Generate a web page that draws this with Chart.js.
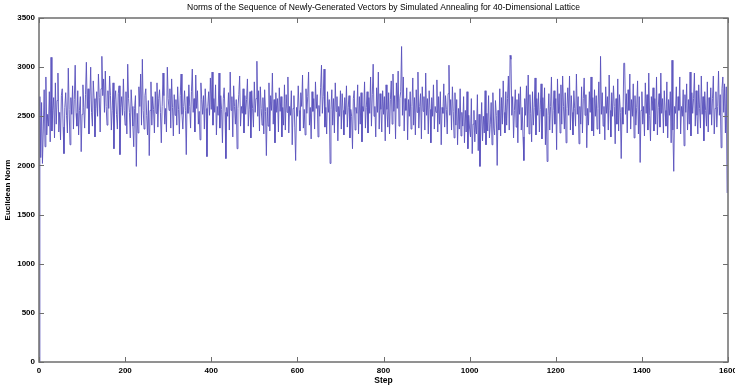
<!DOCTYPE html>
<html><head><meta charset="utf-8">
<script src="https://cdn.jsdelivr.net/npm/chart.js@4/dist/chart.umd.min.js"></script>
<style>html,body{margin:0;padding:0;background:#fff;overflow:hidden}canvas{display:block}</style>
</head><body>
<canvas id="c" width="735" height="390" style="width:735px;height:390px"></canvas>
<script>
const TITLE = "Norms of the Sequence of Newly-Generated Vectors by Simulated Annealing for 40-Dimensional Lattice";
const X_LABEL = "Step";
const Y_LABEL = "Euclidean Norm";
const X_TICKS = [0, 200, 400, 600, 800, 1000, 1200, 1400, 1600];
const Y_TICKS = [0, 500, 1000, 1500, 2000, 2500, 3000, 3500];
const STEP_INTERVAL = 2; // one sampled value every 2 steps
const norms = [
0,2700,2080,2640,2020,2360,2770,2190,2900,2310,2520,2400,2750,2240,3100,2350,2560,2690,2280,2840,
2420,2660,2940,2340,2540,2260,2710,2780,2390,2120,2590,2740,2510,2330,2990,2570,2210,2690,2520,2810,
2370,2670,3020,2530,2400,2760,2310,2560,2700,2140,2520,2820,2590,2380,2720,3050,2580,2780,2320,2670,
3000,2540,2400,2860,2680,2290,2580,2750,2500,2930,2690,2340,2780,3110,2710,2880,2540,2960,2600,2410,
2760,2580,2910,2710,2360,2560,2840,2170,2670,2760,2520,2370,2730,2810,2110,2590,2700,2510,2880,2560,
2410,2750,2320,3030,2680,2540,2280,2770,2600,2400,2190,2580,2710,1990,2530,2330,2800,2600,2930,2410,
3080,2560,2370,2710,2780,2510,2310,2660,2100,2560,2850,2410,2700,2570,2330,2750,2530,2840,2390,2680,
2770,2540,2230,2600,2940,2710,2420,2580,2340,3000,2680,2560,2780,2380,2880,2590,2300,2720,2510,2670,
2410,2800,2570,2320,2710,2930,2520,2370,2600,2760,2560,2110,2700,2530,2820,2600,2380,2750,2980,2540,
2680,2340,2920,2580,2760,2420,2550,2260,2840,2670,2520,2710,2370,2780,2580,2090,2600,2750,2510,2890,
2570,2950,2410,2680,2540,2820,2310,2600,2510,2940,2380,2710,2570,2230,2680,2790,2540,2070,2590,2500,
2740,2360,2950,2560,2700,2290,2810,2600,2420,2670,2170,2580,2720,2910,2400,2600,2530,2780,2330,2710,
2520,2670,2880,2400,2570,2750,2280,2760,2580,2390,2850,2540,2680,3060,2500,2760,2350,2800,2580,2410,
2690,2320,2770,2550,2100,2590,2400,2840,2350,2710,2560,2940,2420,2670,2230,2740,2540,2680,2340,2790,
2550,2700,2290,2590,2410,2820,2360,2720,2540,2900,2330,2600,2510,2760,2210,2580,2710,2390,2050,2590,
2500,2810,2560,2350,2740,2600,2920,2380,2570,2310,2780,2530,2700,2950,2410,2590,2270,2750,2550,2680,
2370,2850,2580,2720,2290,2610,2500,2790,3020,2530,2700,2980,2390,2590,2320,2750,2540,2670,2020,2570,
2770,2410,2680,2330,2840,2550,2700,2250,2600,2500,2760,2370,2730,2560,2310,2690,2520,2810,2390,2590,
2710,2280,2570,2500,2170,2680,2760,2360,2590,2530,2820,2320,2700,2420,2740,2240,2600,2550,2850,2380,
2590,2750,2330,2690,2530,2900,2400,2720,3030,2500,2600,2290,2790,2540,2950,2370,2730,2570,2340,2760,
2520,2700,2250,2820,2570,2390,2740,2320,2670,2860,2420,2930,2550,2710,2270,2840,2580,2960,2400,2680,
2750,3210,2510,2900,2350,2680,2560,2790,2260,2670,2500,2750,2370,2600,2890,2410,2690,2310,2770,2540,
2950,2380,2600,2730,2270,2800,2550,2700,2360,2940,2510,2680,2320,2760,2570,2230,2690,2500,2820,2370,
2600,2540,2870,2340,2700,2420,2750,2210,2590,2530,2830,2390,2710,2570,2320,2730,3020,2510,2670,2360,
2800,2550,2280,2740,2410,2670,2210,2580,2370,2780,2300,2540,2400,2700,2230,2560,2340,2750,2170,2510,
2370,2290,2680,2120,2420,2560,2240,2460,2320,2720,2150,2520,1990,2360,2640,2250,2500,2330,2760,2210,
2530,2350,2710,2280,2420,2640,2210,2740,2380,2310,2660,2510,2000,2560,2360,2780,2300,2690,2420,2860,
2540,2330,2750,2410,2680,2910,2360,3120,3080,2510,2700,2280,2560,2770,2390,2670,2230,2730,2520,2800,
2360,2590,2290,2050,2680,2510,2810,2390,2920,2320,2720,2530,2240,2750,2410,2590,2890,2310,2680,2510,
2740,2340,2570,2830,2270,2690,2500,2790,2210,2580,2040,2510,2730,2360,2600,2900,2330,2560,2760,2420,
2680,2160,2880,2530,2730,2330,2820,2420,2910,2600,2370,2740,2230,2580,2790,2510,2910,2360,2710,2540,
2310,2760,2580,2400,2930,2520,2700,2220,2600,2420,2800,2330,2680,2890,2510,2720,2180,2580,2410,2750,
2540,2900,2350,2690,2300,2770,2500,2710,2370,2580,2850,2320,3110,2520,2740,2400,2600,2260,2800,2530,
2700,2360,2920,2560,2290,2740,2500,2810,2600,2220,2680,2420,2880,2350,2720,2540,2070,2590,2420,3040,
3040,2520,2730,2330,2770,2560,2930,2370,2670,2500,2830,2280,2710,2410,2590,2860,2320,2700,2030,2560,
2750,2420,2600,2300,2840,2530,2720,2360,2940,2510,2250,2700,2560,2790,2350,2680,2420,2900,2310,2590,
2730,2390,2940,2530,2680,2330,2760,2560,2400,2850,2280,2670,2510,2750,2230,3070,2360,1940,2600,2530,
2800,2370,2700,2560,2900,2320,2600,2500,2770,2200,2720,2540,2830,2360,2670,2420,2950,2300,2740,2530,
2680,2940,2400,2760,2510,2320,2820,2580,2380,2910,2520,2700,2250,2750,2560,2400,2850,2340,2690,2520,
2790,2410,2680,2910,2320,2580,2750,2390,2600,2960,2510,2720,2180,2780,2900,2540,2830,2330,2800,1720
];

const points = norms.map((v, i) => ({ x: i * STEP_INTERVAL, y: v }));
const FONT = '"Liberation Sans", Arial, sans-serif';
const AXIS_COLOR = '#6e6e6e';

const frame = {
  id: 'frame',
  afterDraw(chart) {
    const ctx = chart.ctx, a = chart.chartArea;
    const xs = chart.scales.x, ys = chart.scales.y;
    ctx.save();
    ctx.strokeStyle = AXIS_COLOR;
    ctx.lineWidth = 1.5;
    ctx.strokeRect(a.left, a.top, a.right - a.left, a.bottom - a.top);
    ctx.lineWidth = 1;
    const T = 5;
    X_TICKS.forEach(v => {
      const px = Math.round(xs.getPixelForValue(v)) + 0.5;
      ctx.beginPath();
      ctx.moveTo(px, a.bottom); ctx.lineTo(px, a.bottom - T);
      ctx.moveTo(px, a.top); ctx.lineTo(px, a.top + T);
      ctx.stroke();
    });
    Y_TICKS.forEach(v => {
      const py = Math.round(ys.getPixelForValue(v)) + 0.5;
      ctx.beginPath();
      ctx.moveTo(a.left, py); ctx.lineTo(a.left + T, py);
      ctx.moveTo(a.right, py); ctx.lineTo(a.right - T, py);
      ctx.stroke();
    });
    ctx.fillStyle = '#000';
    ctx.textAlign = 'center';
    ctx.textBaseline = 'middle';
    ctx.font = '10px "Liberation Sans Narrow", ' + FONT;
    const w = ctx.measureText(TITLE).width;
    const size = Math.min(11, 10 * 393 / w);
    ctx.font = size.toFixed(2) + 'px "Liberation Sans Narrow", ' + FONT;
    ctx.fillText(TITLE, (a.left + a.right) / 2, 8);
    ctx.font = 'bold 8.5px ' + FONT;
    ctx.fillText(X_LABEL, (a.left + a.right) / 2, 381);
    ctx.font = 'bold 8px ' + FONT;
    ctx.translate(8, (a.top + a.bottom) / 2);
    ctx.rotate(-Math.PI / 2);
    ctx.fillText(Y_LABEL, 0, 0);
    ctx.restore();
  }
};

new Chart(document.getElementById('c'), {
  type: 'line',
  data: {
    datasets: [{
      data: points,
      borderColor: 'rgb(88,80,188)',
      borderWidth: 0.9,
      pointRadius: 0,
      tension: 0,
      fill: false
    }]
  },
  options: {
    responsive: false,
    animation: false,
    devicePixelRatio: 1,
    parsing: false,
    layout: { padding: { top: 18, right: 7, left: 0, bottom: 0 } },
    plugins: { legend: { display: false }, tooltip: { enabled: false }, title: { display: false } },
    scales: {
      x: {
        type: 'linear', min: 0, max: 1600,
        afterBuildTicks: s => { s.ticks = X_TICKS.map(v => ({ value: v })); },
        afterFit: s => { s.height = 28; s.paddingLeft = 0; s.paddingRight = 0; },
        grid: { display: false, drawTicks: false },
        border: { display: false },
        ticks: { color: '#000', padding: 4, maxRotation: 0, callback: v => String(v), font: { family: FONT, size: 8, weight: 'bold' } }
      },
      y: {
        type: 'linear', min: 0, max: 3500,
        afterBuildTicks: s => { s.ticks = Y_TICKS.map(v => ({ value: v })); },
        afterFit: s => { s.width = 39; s.paddingTop = 0; s.paddingBottom = 0; },
        grid: { display: false, drawTicks: false },
        border: { display: false },
        ticks: { color: '#000', padding: 4, callback: v => String(v), font: { family: FONT, size: 8, weight: 'bold' } }
      }
    }
  },
  plugins: [frame]
});
</script>
</body></html>
